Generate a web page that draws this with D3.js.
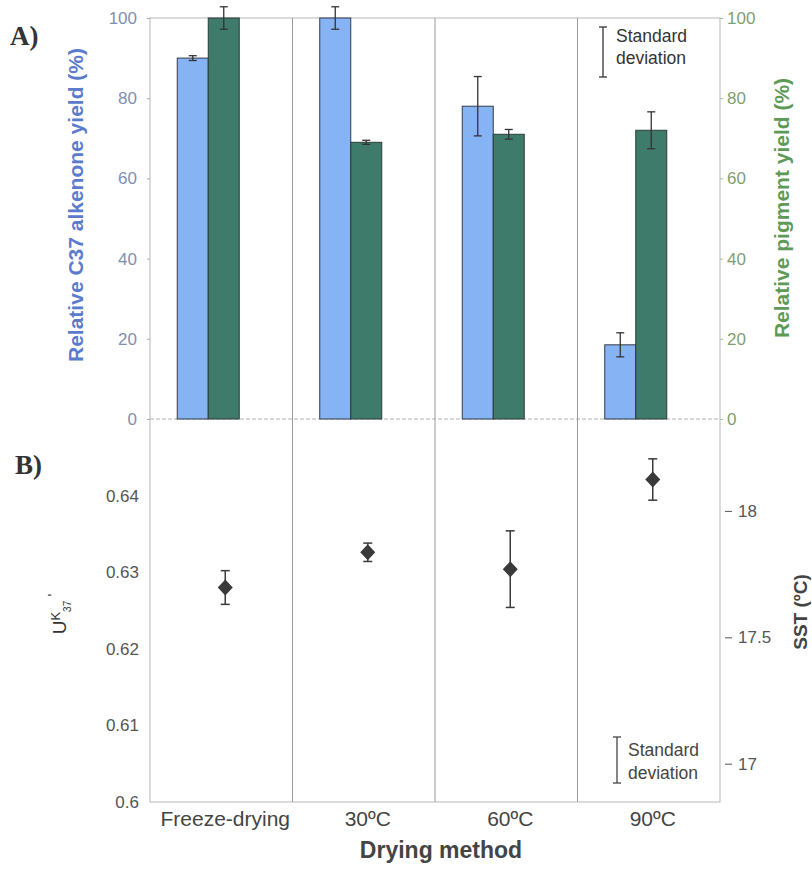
<!DOCTYPE html>
<html>
<head>
<meta charset="utf-8">
<script src="https://d3js.org/d3.v7.min.js"></script>
<style>
  body { margin: 0; background: #fff; }
  text { font-family: "Liberation Sans", Arial, sans-serif; }
</style>
</head>
<body>
<div id="chart"></div>
<script>
// categories and values
const methods = ["Freeze-drying", "30ºC", "60ºC", "90ºC"];
const alkenoneYield = [90, 100, 78, 18.5];
const alkenoneSd    = [0.6, 2.8, 7.4, 3.0];
const pigmentYield  = [100, 69, 71, 72];
const pigmentSd     = [2.8, 0.5, 1.2, 4.6];
const uk37          = [0.628, 0.6326, 0.6304, 0.6421];
const uk37Sd        = [0.0022, 0.0012, 0.005, 0.0027];
const yieldTicks = [0, 20, 40, 60, 80, 100];
const ukTicks    = [0.6, 0.61, 0.62, 0.63, 0.64];
const sstTicks   = [17, 17.5, 18];

const width = 812, height = 872;
const left = 150, right = 720;
const aTop = 18, aBottom = 419, bBottom = 802;

const svg = d3.select("#chart").append("svg")
    .attr("width", width)
    .attr("height", height);

const x = d3.scaleBand().domain(methods).range([left, right]).padding(0);
const yA = d3.scaleLinear().domain([0, 100]).range([aBottom, aTop]);
const yB = d3.scaleLinear().domain([0.6, 0.65]).range([bBottom, aBottom]);
// Müller et al. calibration: UK37' = 0.033 T + 0.044
const ySST = d3.scaleLinear()
    .domain([(0.6 - 0.044) / 0.033, (0.65 - 0.044) / 0.033])
    .range([bBottom, aBottom]);

const barW = 31, groupShift = -13;
const grid = "#9a9a9a";

// frames
svg.append("rect").attr("x", left).attr("y", aTop)
    .attr("width", right - left).attr("height", bBottom - aTop)
    .attr("fill", "none").attr("stroke", "#b8b8b8");
svg.append("line").attr("x1", left).attr("x2", right)
    .attr("y1", aBottom).attr("y2", aBottom)
    .attr("stroke", "#b0b0b0").attr("stroke-dasharray", "4,2");

// separators between categories
svg.selectAll(".sep").data(methods.slice(1)).enter().append("line")
    .attr("class", "sep")
    .attr("x1", d => x(d)).attr("x2", d => x(d))
    .attr("y1", aTop).attr("y2", bBottom)
    .attr("stroke", grid);

// ---------- panel A ----------
const groupCenter = d => x(d) + x.bandwidth() / 2 + groupShift;

svg.selectAll(".blue").data(methods).enter().append("rect")
    .attr("x", d => groupCenter(d) - barW)
    .attr("y", (d, i) => yA(alkenoneYield[i]))
    .attr("width", barW)
    .attr("height", (d, i) => yA(0) - yA(alkenoneYield[i]))
    .attr("fill", "#86b3f4").attr("stroke", "#333a4a").attr("stroke-width", 1);

svg.selectAll(".green").data(methods).enter().append("rect")
    .attr("x", d => groupCenter(d))
    .attr("y", (d, i) => yA(pigmentYield[i]))
    .attr("width", barW)
    .attr("height", (d, i) => yA(0) - yA(pigmentYield[i]))
    .attr("fill", "#3f7b6b").attr("stroke", "#2e3b38").attr("stroke-width", 1);

function errBar(g, cx, y1, y2, cap) {
  g.append("line").attr("x1", cx).attr("x2", cx).attr("y1", y1).attr("y2", y2);
  g.append("line").attr("x1", cx - cap).attr("x2", cx + cap).attr("y1", y1).attr("y2", y1);
  g.append("line").attr("x1", cx - cap).attr("x2", cx + cap).attr("y1", y2).attr("y2", y2);
}

const eb = svg.append("g").attr("stroke", "#333").attr("stroke-width", 1.3);
methods.forEach((m, i) => {
  const c = groupCenter(m);
  errBar(eb, c - barW / 2, yA(alkenoneYield[i] + alkenoneSd[i]), yA(alkenoneYield[i] - alkenoneSd[i]), 4);
  errBar(eb, c + barW / 2, yA(pigmentYield[i] + pigmentSd[i]), yA(pigmentYield[i] - pigmentSd[i]), 4);
});

// legend A
const lgA = svg.append("g").attr("stroke", "#333").attr("stroke-width", 1.3);
errBar(lgA, 603, 27, 77, 4);
svg.append("text").attr("x", 616).attr("y", 42).style("font-size", "17.5px").attr("fill", "#333").text("Standard");
svg.append("text").attr("x", 616).attr("y", 64).style("font-size", "17.5px").attr("fill", "#333").text("deviation");

// axes A
const axL = svg.append("g").attr("transform", `translate(${left},0)`)
    .call(d3.axisLeft(yA).tickValues(yieldTicks).tickSize(3).tickPadding(10));
axL.select(".domain").remove();
axL.selectAll("line").attr("stroke", "#aab");
axL.selectAll("text").style("font-size", "17px").attr("fill", "#7f8fb0");

const axR = svg.append("g").attr("transform", `translate(${right},0)`)
    .call(d3.axisRight(yA).tickValues(yieldTicks).tickSize(3).tickPadding(4));
axR.select(".domain").remove();
axR.selectAll("line").attr("stroke", "#9b9");
axR.selectAll("text").style("font-size", "17px").attr("fill", "#7f9e72");

svg.append("text")
    .attr("transform", "translate(83,205) rotate(-90)")
    .attr("text-anchor", "middle").style("font-size", "21px").attr("font-weight", "bold")
    .attr("fill", "#5b7ccc").text("Relative C37 alkenone yield (%)");
svg.append("text")
    .attr("transform", "translate(789,208) rotate(-90)")
    .attr("text-anchor", "middle").style("font-size", "21px").attr("font-weight", "bold")
    .attr("fill", "#5e9a57").text("Relative pigment yield (%)");

svg.append("text").attr("x", 10).attr("y", 45)
    .style("font-family", "'Liberation Serif', serif").attr("font-weight", "bold")
    .style("font-size", "27px").attr("fill", "#333").text("A)");

// ---------- panel B ----------
const markX = d => x(d) + x.bandwidth() / 2 + 4;
const ebB = svg.append("g").attr("stroke", "#3a3a3a").attr("stroke-width", 1.5);
methods.forEach((m, i) => {
  errBar(ebB, markX(m), yB(uk37[i] + uk37Sd[i]), yB(uk37[i] - uk37Sd[i]), 4.5);
});
svg.selectAll(".dia").data(methods).enter().append("path")
    .attr("d", "M0,-8L7.5,0L0,8L-7.5,0Z")
    .attr("transform", (d, i) => `translate(${markX(d)},${yB(uk37[i])})`)
    .attr("fill", "#3a3a3a");

// legend B
const lgB = svg.append("g").attr("stroke", "#444").attr("stroke-width", 1.3);
errBar(lgB, 617, 737, 783, 4);
svg.append("text").attr("x", 628).attr("y", 756).style("font-size", "17.5px").attr("fill", "#444").text("Standard");
svg.append("text").attr("x", 628).attr("y", 779).style("font-size", "17.5px").attr("fill", "#444").text("deviation");

const axBL = svg.append("g").attr("transform", `translate(${left},0)`)
    .call(d3.axisLeft(yB).tickValues(ukTicks).tickFormat(d3.format("")).tickSize(0).tickPadding(11));
axBL.select(".domain").remove();
axBL.selectAll("text").style("font-size", "17px").attr("fill", "#555");

const axBR = svg.append("g").attr("transform", `translate(${right + 5},0)`)
    .call(d3.axisRight(ySST).tickValues(sstTicks).tickFormat(d3.format("")).tickSize(7).tickPadding(6));
axBR.select(".domain").remove();
axBR.selectAll("line").attr("stroke", "#555");
axBR.selectAll("text").style("font-size", "17px").attr("fill", "#555");

const ukLab = svg.append("text")
    .attr("transform", "translate(66,614) rotate(-90)")
    .attr("text-anchor", "middle").style("font-size", "19px").attr("fill", "#333");
ukLab.append("tspan").text("U");
ukLab.append("tspan").style("font-size", "13px").attr("dy", -6).text("K");
ukLab.append("tspan").style("font-size", "10px").attr("dy", 11).text("37");
ukLab.append("tspan").style("font-size", "15px").attr("dy", -13).text(" '");

svg.append("text")
    .attr("transform", "translate(807,612) rotate(-90)")
    .attr("text-anchor", "middle").style("font-size", "19px").attr("font-weight", "bold")
    .attr("fill", "#444").text("SST (ºC)");

svg.append("text").attr("x", 15).attr("y", 474)
    .style("font-family", "'Liberation Serif', serif").attr("font-weight", "bold")
    .style("font-size", "27px").attr("fill", "#333").text("B)");

// x axis
const axX = svg.append("g").attr("transform", `translate(4,${bBottom})`)
    .call(d3.axisBottom(x).tickSize(0).tickPadding(9));
axX.select(".domain").remove();
axX.selectAll("text").style("font-size", "21px").attr("fill", "#444");

svg.append("text").attr("x", 441).attr("y", 858)
    .attr("text-anchor", "middle").style("font-size", "23px").attr("font-weight", "bold")
    .attr("fill", "#444").text("Drying method");
</script>
</body>
</html>
